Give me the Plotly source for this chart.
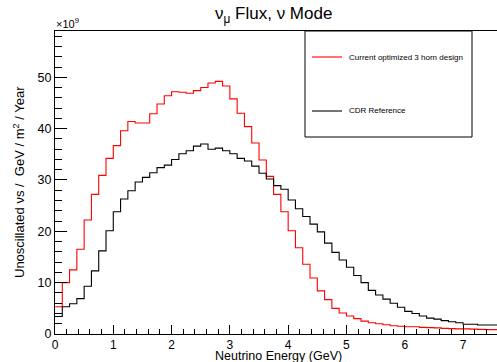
import plotly.graph_objects as go

# Bin layout (GeV)
bin_width = 0.125
# Flux values in units of 1e9 per bin (bin i covers [i*0.125, (i+1)*0.125))
red_vals = [5.3, 10.0, 12.5, 16.5, 22.2, 27.2, 30.9, 34.2, 36.7, 39.6,
            41.4, 41.1, 41.1, 42.9, 44.8, 46.4, 47.2, 47.1, 46.9, 47.4,
            48.0, 48.9, 49.2, 48.3, 45.8, 43.0, 40.4, 37.2, 33.9, 30.7,
            27.2, 23.8, 20.1, 16.8, 13.6, 10.9, 8.4, 6.7, 5.0, 4.1,
            3.5, 3.0, 2.5, 2.2, 2.0, 1.8, 1.6, 1.5, 1.4, 1.4,
            1.3, 1.25, 1.2, 1.1, 1.05, 1.0, 1.0, 0.95, 0.9, 0.85, 0.85]
black_vals = [3.4, 5.3, 5.9, 6.9, 9.3, 12.3, 16.2, 20.1, 23.8, 26.3,
              27.9, 29.6, 30.5, 31.4, 32.4, 32.9, 34.0, 35.1, 35.7, 36.6,
              37.0, 36.0, 36.2, 35.7, 35.1, 34.2, 33.7, 32.7, 31.3, 30.2,
              28.9, 28.2, 26.1, 24.4, 22.9, 21.4, 19.9, 17.7, 15.9, 14.4,
              13.0, 11.4, 10.0, 8.5, 7.6, 6.8, 6.0, 5.2, 4.4, 4.0,
              3.5, 3.1, 2.9, 2.6, 2.4, 2.2, 1.9, 1.9, 1.75, 1.75, 1.75]
series_names = ["Current optimized 3 horn design", "CDR Reference"]
series_colors = ["#ff0000", "#000000"]

title_text = "ν<sub>μ</sub> Flux, ν Mode"
x_title = "Neutrino Energy (GeV)"
y_title = "Unoscillated νs /  GeV / m<sup>2</sup> / Year"
scale_text = "×10<sup>9</sup>"

W, H = 497, 362
L, R, T, B = 55, 0, 31, 28
pw = W - L - R
ph = H - T - B
FONT = "Liberation Sans, Arial, Helvetica, sans-serif"


def px(xp):
    return (xp - L) / pw


def py(yp):
    return (H - B - yp) / ph


def edges(vals):
    xs = [i * bin_width for i in range(len(vals) + 1)]
    ys = list(vals) + [vals[-1]]
    return xs, ys


fig = go.Figure()
for vals, name, col in zip([red_vals, black_vals], series_names, series_colors):
    xs, ys = edges(vals)
    fig.add_trace(go.Scatter(x=xs, y=ys, mode="lines", line_shape="hv",
                             line=dict(color=col, width=1.1), name=name,
                             showlegend=False))

fig.update_layout(
    width=W, height=H,
    margin=dict(l=L, r=R, t=T, b=B, pad=0),
    paper_bgcolor="white", plot_bgcolor="white",
    font=dict(family=FONT, color="black"),
    showlegend=False,
)
fig.update_xaxes(
    range=[0, pw / 58.29], showline=True, linecolor="black", linewidth=1,
    mirror=True, ticks="inside", ticklen=9, tickcolor="black", tickwidth=1,
    tick0=0, dtick=1, showgrid=False, zeroline=False,
    tickfont=dict(size=12, family=FONT),
    minor=dict(dtick=0.2, tick0=0, ticks="inside", ticklen=5,
               tickcolor="black", showgrid=False),
)
fig.update_yaxes(
    range=[0, ph / 5.134], showline=True, linecolor="black", linewidth=1,
    mirror=False, ticks="inside", ticklen=12, tickcolor="black", tickwidth=1,
    tick0=0, dtick=10, showgrid=False, zeroline=False,
    tickfont=dict(size=12.5, family=FONT),
    minor=dict(dtick=2, tick0=0, ticks="inside", ticklen=7,
               tickcolor="black", showgrid=False),
)

ann = []
ann.append(dict(text=title_text, x=px(273), y=py(15), xref="paper", yref="paper",
                xanchor="center", yanchor="middle", showarrow=False,
                font=dict(size=17, family=FONT)))
ann.append(dict(text=scale_text, x=px(54), y=py(23), xref="paper", yref="paper",
                xanchor="left", yanchor="middle", showarrow=False,
                font=dict(size=11, family=FONT)))
ann.append(dict(text=x_title, x=px(344), y=py(356), xref="paper", yref="paper",
                xanchor="right", yanchor="middle", showarrow=False,
                font=dict(size=12.5, family=FONT)))
ann.append(dict(text=y_title, x=px(19), y=py(182), xref="paper", yref="paper",
                xanchor="center", yanchor="middle", showarrow=False, textangle=-90,
                font=dict(size=13, family=FONT)))

shapes = [dict(type="rect", xref="paper", yref="paper", x0=px(305), x1=px(472),
               y0=py(137), y1=py(31), line=dict(color="black", width=1),
               fillcolor="white", layer="above")]
for name, col, ly in zip(series_names, series_colors, [57, 111]):
    shapes.append(dict(type="line", xref="paper", yref="paper", x0=px(312), x1=px(342),
                       y0=py(ly), y1=py(ly), line=dict(color=col, width=1.1),
                       layer="above"))
    ann.append(dict(text=name, x=px(347), y=py(ly), xref="paper", yref="paper",
                    xanchor="left", yanchor="middle", showarrow=False,
                    font=dict(size=8, family=FONT)))

fig.update_layout(annotations=ann, shapes=shapes)
fig.write_html("out.html")
